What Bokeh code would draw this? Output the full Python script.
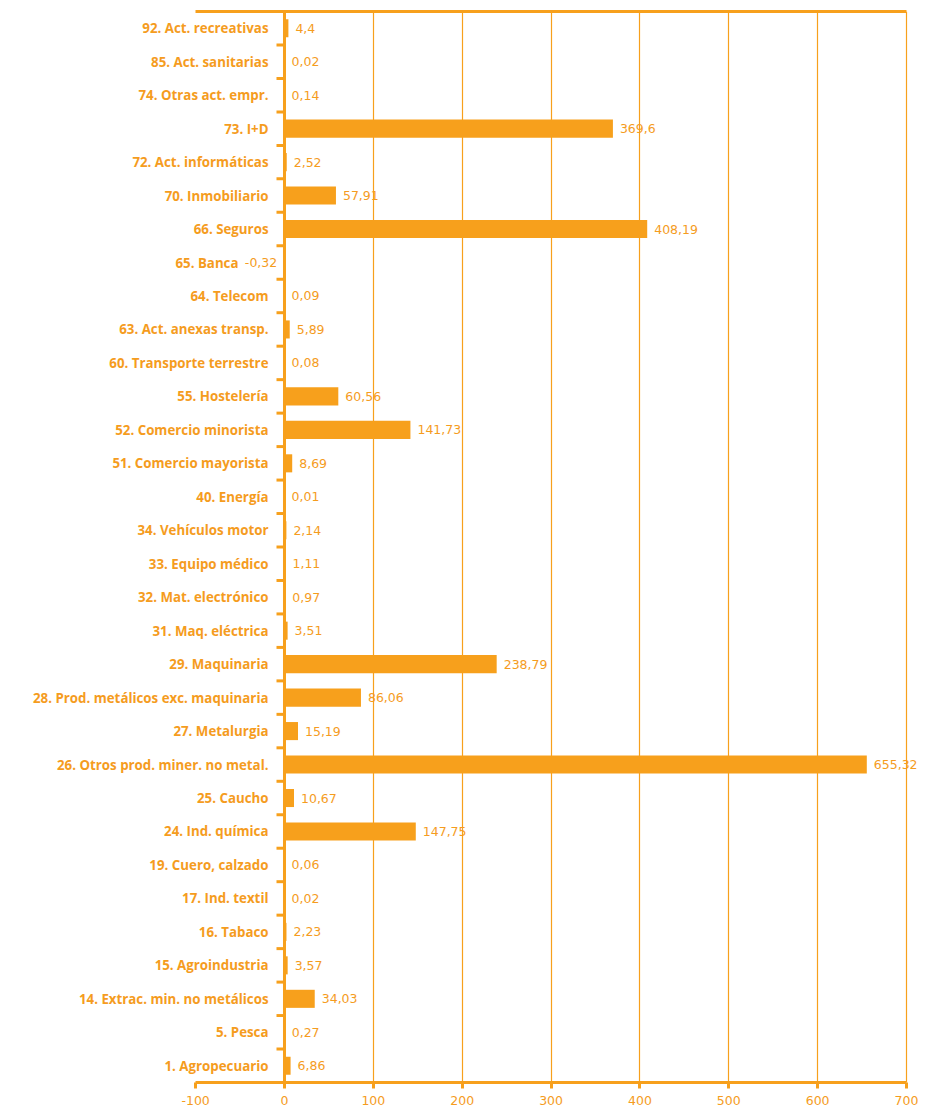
from bokeh.plotting import figure
from bokeh.models import Range1d, LinearAxis, FixedTicker, Span, ColumnDataSource, Grid
from bokeh.core.properties import value
from bokeh.embed import file_html
from bokeh.resources import INLINE

# Data (top to bottom as in the reference)
categories = [
    "92. Act. recreativas", "85. Act. sanitarias", "74. Otras act. empr.", "73. I+D",
    "72. Act. informáticas", "70. Inmobiliario", "66. Seguros", "65. Banca",
    "64. Telecom", "63. Act. anexas transp.", "60. Transporte terrestre", "55. Hostelería",
    "52. Comercio minorista", "51. Comercio mayorista", "40. Energía", "34. Vehículos motor",
    "33. Equipo médico", "32. Mat. electrónico", "31. Maq. eléctrica", "29. Maquinaria",
    "28. Prod. metálicos exc. maquinaria", "27. Metalurgia", "26. Otros prod. miner. no metal.",
    "25. Caucho", "24. Ind. química", "19. Cuero, calzado", "17. Ind. textil", "16. Tabaco",
    "15. Agroindustria", "14. Extrac. min. no metálicos", "5. Pesca", "1. Agropecuario",
]
values = [
    4.4, 0.02, 0.14, 369.6, 2.52, 57.91, 408.19, -0.32, 0.09, 5.89, 0.08, 60.56,
    141.73, 8.69, 0.01, 2.14, 1.11, 0.97, 3.51, 238.79, 86.06, 15.19, 655.32,
    10.67, 147.75, 0.06, 0.02, 2.23, 3.57, 34.03, 0.27, 6.86,
]
x_ticks = [-100, 0, 100, 200, 300, 400, 500, 600, 700]
x_tick_labels = {t: str(t) for t in x_ticks}

ORANGE = "#F7A01C"
TXT = "#F59C1E"

n = len(categories)
ys = [n - 1 - i for i in range(n)]
labels = [f"{v:g}".replace(".", ",") for v in values]
cat_off = [-16 if v >= 0 else -46 for v in values]

src = ColumnDataSource(dict(y=ys, value=values, cat=categories, lab=labels, cat_off=cat_off))
pos = ColumnDataSource(dict(
    y=[y for y, v in zip(ys, values) if v >= 0],
    value=[v for v in values if v >= 0],
    lab=[l for l, v in zip(labels, values) if v >= 0],
))
neg = ColumnDataSource(dict(
    y=[y for y, v in zip(ys, values) if v < 0],
    value=[v for v in values if v < 0],
    lab=[l for l, v in zip(labels, values) if v < 0],
))

p = figure(width=918, height=1109,
           x_range=Range1d(-319.6, 713.5), y_range=Range1d(-0.5, n - 0.5),
           output_backend="svg", toolbar_location=None,
           x_axis_location=None, y_axis_location=None,
           min_border_left=0, min_border_right=0, min_border_top=11, min_border_bottom=27)
p.outline_line_color = None
p.background_fill_color = "white"
for g in p.xgrid + p.ygrid:
    g.visible = False

# vertical gridlines
grid = Grid(dimension=0, ticker=FixedTicker(ticks=[t for t in x_ticks if t > 0]),
            grid_line_color=ORANGE, grid_line_alpha=1.0, grid_line_width=1.2)
p.add_layout(grid)

# bottom axis
ax = LinearAxis(ticker=FixedTicker(ticks=x_ticks), bounds=(-100, 700))
ax.major_label_overrides = x_tick_labels
ax.axis_line_color = ORANGE
ax.axis_line_width = 3
ax.major_tick_line_color = ORANGE
ax.major_tick_line_width = 3
ax.major_tick_out = 6
ax.major_tick_in = 0
ax.minor_tick_line_color = None
ax.major_label_text_color = TXT
ax.major_label_text_font = "DejaVu Sans"
ax.major_label_text_font_size = "12.5px"
ax.major_label_standoff = 7
p.add_layout(ax, "below")

# top line
top = LinearAxis(ticker=FixedTicker(ticks=[]), bounds=(-100, 700))
top.axis_line_color = ORANGE
top.axis_line_width = 3
top.major_tick_out = 0
top.major_tick_in = 0
top.minor_tick_line_color = None
top.major_label_text_font_size = "0px"
top.major_label_standoff = 0
p.add_layout(top, "above")

# bars
p.hbar(y="y", left=0, right="value", height=0.54, source=src,
       fill_color=ORANGE, line_color=None)

# zero axis line
p.add_layout(Span(location=0, dimension="height", line_color=ORANGE, line_width=3))

# category boundary ticks on the zero axis
bounds_y = [y + 0.5 for y in ys if y < n - 1]
p.segment(x0=-9, x1=0, y0=bounds_y, y1=bounds_y, line_color=ORANGE, line_width=3)

# category labels
p.text(x=0, y="y", text="cat", x_offset="cat_off", source=src,
       text_align="right", text_baseline="middle",
       text_font=value("Open Sans"), text_font_style="bold", text_font_size="13.3px",
       text_color=TXT)

# value labels
p.text(x="value", y="y", text="lab", x_offset=7, source=pos,
       text_align="left", text_baseline="middle",
       text_font=value("DejaVu Sans"), text_font_size="12.5px", text_color=TXT)
p.text(x="value", y="y", text="lab", x_offset=-7, source=neg,
       text_align="right", text_baseline="middle",
       text_font=value("DejaVu Sans"), text_font_size="12.5px", text_color=TXT)

open("out.html", "w").write(file_html(p, INLINE))
